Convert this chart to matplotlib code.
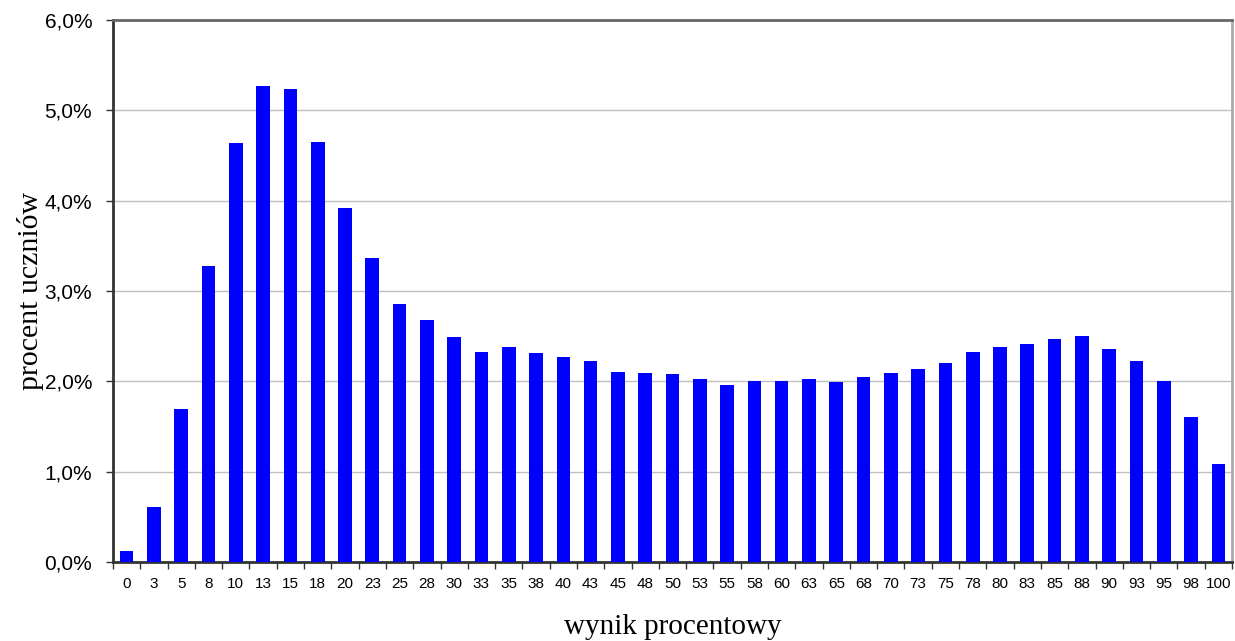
import numpy as np
from matplotlib import pyplot as plt
from matplotlib.ticker import FuncFormatter, MultipleLocator

scores = [0, 3, 5, 8, 10, 13, 15, 18, 20, 23, 25, 28, 30, 33, 35, 38, 40, 43, 45, 48,
          50, 53, 55, 58, 60, 63, 65, 68, 70, 73, 75, 78, 80, 83, 85, 88, 90, 93, 95, 98, 100]
percent = [0.12, 0.61, 1.69, 3.28, 4.64, 5.27, 5.24, 4.65, 3.92, 3.37, 2.86, 2.68, 2.49,
           2.33, 2.38, 2.31, 2.27, 2.23, 2.10, 2.09, 2.08, 2.03, 1.96, 2.00, 2.00, 2.03,
           1.99, 2.05, 2.09, 2.14, 2.20, 2.33, 2.38, 2.41, 2.47, 2.50, 2.36, 2.22, 2.00,
           1.60, 1.08]

fig = plt.figure(figsize=(12.35, 6.41), dpi=100)
ax = fig.add_axes([113 / 1235, 1 - 562 / 641, 1119 / 1235, 542 / 641])

x = np.arange(len(scores))
ax.bar(x, percent, width=0.5, color='#0000ff', zorder=3)

ax.set_xlim(-0.5, len(scores) - 0.5)
ax.set_ylim(0, 6)
ax.yaxis.set_major_locator(MultipleLocator(1))
ax.yaxis.set_major_formatter(FuncFormatter(lambda v, p: f'{v:.1f}%'.replace('.', ',')))
ax.grid(axis='y', color='#c0c0c0', linewidth=1, zorder=0)

ax.set_xticks(x)
ax.set_xticklabels([str(s) for s in scores])
ax.set_xticks(np.arange(-0.5, len(scores)), minor=True)
ax.tick_params(axis='x', which='major', length=0, pad=11, labelsize=11,
               labelfontfamily='Liberation Sans')
ax.tick_params(axis='x', which='minor', length=5, width=1, color='#333333')
ax.tick_params(axis='y', length=5, width=1, color='#333333', labelsize=15,
               labelfontfamily='Liberation Sans', pad=10)

for side in ['left', 'bottom']:
    ax.spines[side].set_color('#333333')
    ax.spines[side].set_linewidth(2)
ax.spines['top'].set_color('#666666')
ax.spines['top'].set_linewidth(2)
ax.spines['right'].set_color('#aaaaaa')
ax.spines['right'].set_linewidth(2)

ax.set_xlabel('wynik procentowy', fontsize=21, family='Liberation Serif', va='center')
ax.xaxis.set_label_coords(0.5, (562 - 627) / 542)
ax.set_ylabel('procent uczniów', fontsize=21.5, family='Liberation Serif', va='center')
ax.yaxis.set_label_coords((30 - 113) / 1119, 0.5)

fig.savefig('out.png', dpi=100)
